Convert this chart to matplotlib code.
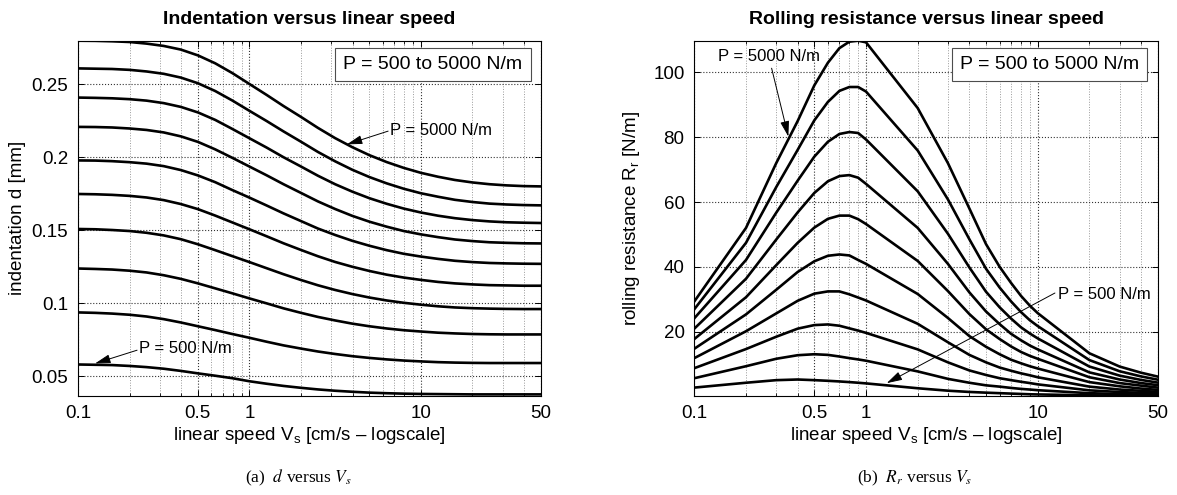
import matplotlib
matplotlib.use("Agg")
import matplotlib.pyplot as plt
from matplotlib.ticker import LogLocator, NullFormatter

plt.rcParams.update({
    "font.family": "Liberation Sans",
    "font.size": 13.5,
    "mathtext.fontset": "custom",
    "mathtext.rm": "Liberation Sans",
    "mathtext.it": "Liberation Sans:italic",
    "axes.linewidth": 0.8,
    "xtick.direction": "in",
    "ytick.direction": "in",
    "xtick.top": True,
    "ytick.right": True,
})

# ---------------- DATA ----------------
loads = [500, 1000, 1500, 2000, 2500, 3000, 3500, 4000, 4500, 5000]   # N/m

# (a) indentation d [mm]
speed_d = [0.1, 0.126, 0.158, 0.2, 0.251, 0.316, 0.398, 0.501, 0.631, 0.794,
           1, 1.26, 1.58, 2, 2.51, 3.16, 3.98, 5.01, 6.31, 7.94,
           10, 12.6, 15.8, 20, 25.1, 31.6, 39.8, 50]
indent_mm = [
    [0.0580, 0.0578, 0.0576, 0.0570, 0.0562, 0.0551, 0.0536, 0.0519, 0.0503, 0.0486,
     0.0465, 0.0448, 0.0433, 0.0420, 0.0409, 0.0400, 0.0393, 0.0387, 0.0383, 0.0380,
     0.0378, 0.0377, 0.0376, 0.0375, 0.0375, 0.0375, 0.0375, 0.0375],
    [0.0937, 0.0934, 0.0929, 0.0921, 0.0909, 0.0891, 0.0868, 0.0842, 0.0816, 0.0789,
     0.0763, 0.0736, 0.0711, 0.0689, 0.0669, 0.0652, 0.0637, 0.0625, 0.0615, 0.0607,
     0.0601, 0.0596, 0.0593, 0.0591, 0.0590, 0.0590, 0.0590, 0.0590],
    [0.1238, 0.1235, 0.1231, 0.1223, 0.1211, 0.1192, 0.1167, 0.1136, 0.1102, 0.1068,
     0.1033, 0.0999, 0.0965, 0.0934, 0.0906, 0.0882, 0.0860, 0.0842, 0.0827, 0.0815,
     0.0806, 0.0798, 0.0793, 0.0789, 0.0787, 0.0786, 0.0786, 0.0786],
    [0.1509, 0.1507, 0.1502, 0.1495, 0.1483, 0.1465, 0.1439, 0.1404, 0.1364, 0.1323,
     0.1282, 0.1240, 0.1199, 0.1159, 0.1123, 0.1091, 0.1063, 0.1039, 0.1019, 0.1003,
     0.0990, 0.0979, 0.0971, 0.0966, 0.0963, 0.0961, 0.0960, 0.0960],
    [0.1749, 0.1747, 0.1743, 0.1736, 0.1725, 0.1707, 0.1680, 0.1645, 0.1601, 0.1554,
     0.1507, 0.1459, 0.1411, 0.1365, 0.1322, 0.1283, 0.1250, 0.1221, 0.1196, 0.1176,
     0.1160, 0.1146, 0.1136, 0.1129, 0.1124, 0.1122, 0.1120, 0.1120],
    [0.1979, 0.1978, 0.1974, 0.1967, 0.1957, 0.1940, 0.1913, 0.1876, 0.1830, 0.1776,
     0.1724, 0.1670, 0.1616, 0.1563, 0.1512, 0.1468, 0.1428, 0.1394, 0.1364, 0.1339,
     0.1320, 0.1304, 0.1291, 0.1282, 0.1276, 0.1273, 0.1271, 0.1270],
    [0.2209, 0.2208, 0.2205, 0.2198, 0.2188, 0.2171, 0.2144, 0.2106, 0.2055, 0.1997,
     0.1937, 0.1877, 0.1816, 0.1756, 0.1698, 0.1646, 0.1599, 0.1559, 0.1525, 0.1495,
     0.1472, 0.1453, 0.1437, 0.1426, 0.1418, 0.1414, 0.1411, 0.1410],
    [0.2410, 0.2408, 0.2405, 0.2399, 0.2389, 0.2372, 0.2346, 0.2308, 0.2257, 0.2195,
     0.2131, 0.2067, 0.2001, 0.1937, 0.1874, 0.1816, 0.1765, 0.1720, 0.1682, 0.1649,
     0.1622, 0.1600, 0.1583, 0.1570, 0.1561, 0.1555, 0.1552, 0.1550],
    [0.2610, 0.2608, 0.2606, 0.2600, 0.2589, 0.2573, 0.2547, 0.2508, 0.2455, 0.2390,
     0.2319, 0.2249, 0.2178, 0.2107, 0.2037, 0.1973, 0.1915, 0.1865, 0.1822, 0.1785,
     0.1754, 0.1730, 0.1709, 0.1694, 0.1683, 0.1677, 0.1673, 0.1671],
    [0.2800, 0.2799, 0.2796, 0.2791, 0.2780, 0.2764, 0.2739, 0.2699, 0.2645, 0.2578,
     0.2503, 0.2428, 0.2352, 0.2277, 0.2202, 0.2132, 0.2070, 0.2015, 0.1968, 0.1928,
     0.1894, 0.1867, 0.1845, 0.1828, 0.1816, 0.1808, 0.1803, 0.1801],
]

# (b) rolling resistance Rr [N/m]
speed_r = [0.1, 0.2, 0.3, 0.4, 0.5, 0.6, 0.7, 0.8, 0.9, 1, 2, 3, 4, 5, 6, 7, 8, 9, 10, 20, 30, 40, 50]
resist_Nm = [
    [2.7, 4.2, 5.0, 5.2, 5.0, 4.8, 4.6, 4.4, 4.2, 4.0, 2.5, 1.75, 1.36, 1.14, 0.98, 0.85, 0.74, 0.64, 0.59, 0.32, 0.23, 0.18, 0.14],
    [5.6, 9.3, 11.6, 12.7, 13.0, 12.8, 12.3, 11.8, 11.4, 11.0, 7.7, 5.4, 4.2, 3.4, 3.0, 2.6, 2.3, 2.1, 1.9, 0.98, 0.70, 0.56, 0.44],
    [8.7, 14.6, 18.4, 20.9, 22.0, 22.2, 21.8, 21.0, 20.3, 19.6, 14.5, 10.5, 8.0, 6.6, 5.6, 5.0, 4.5, 4.1, 3.7, 1.85, 1.34, 1.07, 0.88],
    [11.8, 20.1, 25.6, 29.5, 31.7, 32.4, 32.4, 31.5, 30.5, 29.6, 22.4, 16.7, 12.8, 10.5, 8.9, 7.9, 7.1, 6.5, 5.9, 3.0, 2.1, 1.7, 1.4],
    [14.7, 25.3, 32.9, 38.4, 41.7, 43.4, 43.8, 43.5, 42.1, 40.9, 31.6, 24.2, 18.6, 15.3, 13.0, 11.3, 10.2, 9.3, 8.6, 4.4, 3.1, 2.4, 2.0],
    [17.7, 30.6, 40.5, 47.4, 52.1, 54.8, 55.8, 55.8, 54.7, 53.2, 41.8, 32.5, 25.4, 20.7, 17.7, 15.4, 13.7, 12.5, 11.6, 5.9, 4.1, 3.3, 2.7],
    [20.9, 36.3, 48.4, 56.8, 62.8, 66.4, 68.0, 68.3, 67.5, 65.6, 52.0, 40.9, 32.1, 26.2, 22.3, 19.3, 17.3, 15.7, 14.5, 7.4, 5.2, 4.1, 3.46],
    [24.1, 42.1, 56.7, 66.6, 74.0, 78.6, 81.0, 81.6, 81.3, 79.3, 63.3, 50.2, 39.8, 32.3, 27.5, 24.0, 21.3, 19.4, 17.9, 9.2, 6.4, 5.07, 4.25],
    [26.9, 47.4, 64.6, 76.1, 85.2, 90.9, 94.3, 95.5, 95.5, 94.1, 75.9, 60.8, 48.5, 39.4, 33.6, 29.3, 26.0, 23.5, 21.7, 11.2, 7.75, 6.15, 5.15],
    [29.3, 52, 72, 85, 96, 103, 107.5, 109.5, 109.8, 109.3, 89, 72, 58, 47, 40, 35, 31, 28, 25.7, 13.3, 9.2, 7.3, 6.1],
]

x_ticks = [0.1, 0.5, 1, 10, 50]
x_labels = ["0.1", "0.5", "1", "10", "50"]
d_ticks = [0.05, 0.1, 0.15, 0.2, 0.25]
d_labels = ["0.05", "0.1", "0.15", "0.2", "0.25"]
r_ticks = [20, 40, 60, 80, 100]

# ---------------- PLOT ----------------
fig = plt.figure(figsize=(11.77, 4.95), dpi=100)
ax1 = fig.add_axes([0.0663, 0.2006, 0.3931, 0.7172])
ax2 = fig.add_axes([0.5899, 0.2006, 0.3937, 0.7172])


def style_axis(ax):
    ax.set_xscale("log")
    ax.set_xlim(0.1, 50)
    ax.set_xticks(x_ticks, x_labels)
    ax.xaxis.set_minor_locator(LogLocator(base=10, subs=range(2, 10)))
    ax.xaxis.set_minor_formatter(NullFormatter())
    ax.grid(True, which="major", linestyle=":", color="0.2", linewidth=0.8)
    ax.grid(True, which="minor", axis="x", linestyle=":", color="0.6", linewidth=0.7)
    ax.tick_params(which="major", length=4, width=0.7, pad=7)
    ax.tick_params(which="minor", length=2.5, width=0.6)
    ax.set_xlabel(r"linear speed V$_\mathregular{s}$ [cm/s – logscale]", labelpad=2)


for row in indent_mm:
    ax1.plot(speed_d, row, color="black", linewidth=1.9)
style_axis(ax1)
ax1.set_ylim(0.0366, 0.28)
ax1.set_yticks(d_ticks, d_labels)
ax1.set_ylabel("indentation d [mm]", labelpad=4)
ax1.set_title("Indentation versus linear speed", fontsize=14, fontweight="bold", pad=12)

for row in resist_Nm:
    ax2.plot(speed_r, row, color="black", linewidth=1.9)
style_axis(ax2)
ax2.set_ylim(0.2, 109.8)
ax2.set_yticks(r_ticks)
ax2.set_ylabel(r"rolling resistance R$_\mathregular{r}$ [N/m]", labelpad=8)
ax2.set_title("Rolling resistance versus linear speed", fontsize=14, fontweight="bold", pad=12)

# range boxes
box = dict(boxstyle="square,pad=0.42", facecolor="white", edgecolor="0.3", linewidth=0.8)
for ax in (ax1, ax2):
    ax.text(0.767, 0.932, "P = 500 to 5000 N/m", transform=ax.transAxes,
            ha="center", va="center", fontsize=14, bbox=box, zorder=5)

# annotations
arrow = dict(arrowstyle="-|>,head_length=0.7,head_width=0.2", color="black",
             linewidth=0.7, shrinkA=0, shrinkB=0)
ax1.annotate("", xy=(3.70, 0.2089), xytext=(6.44, 0.218), arrowprops=arrow)
ax1.text(6.61, 0.2182, "P = 5000 N/m", fontsize=12, ha="left", va="center")
ax1.annotate("", xy=(0.1257, 0.0587), xytext=(0.221, 0.0678), arrowprops=arrow)
ax1.text(0.228, 0.069, "P = 500 N/m", fontsize=12, ha="left", va="center")

ax2.annotate("", xy=(0.353, 80.2), xytext=(0.282, 101.3), arrowprops=arrow)
ax2.text(0.138, 104.9, "P = 5000 N/m", fontsize=12, ha="left", va="center")
ax2.annotate("", xy=(1.32, 4.07), xytext=(12.6, 31.9), arrowprops=arrow)
ax2.text(13.2, 31.3, "P = 500 N/m", fontsize=12, ha="left", va="center")

# sub-captions
cap = dict(fontsize=12.5, family="Liberation Serif", math_fontfamily="stix",
           ha="center", va="center")
fig.text(298 / 1177, 0.034, r"(a)  $d$ versus $V_s$", **cap)
fig.text(915 / 1177, 0.034, r"(b)  $R_r$ versus $V_s$", **cap)

fig.savefig("out.png", dpi=100)
